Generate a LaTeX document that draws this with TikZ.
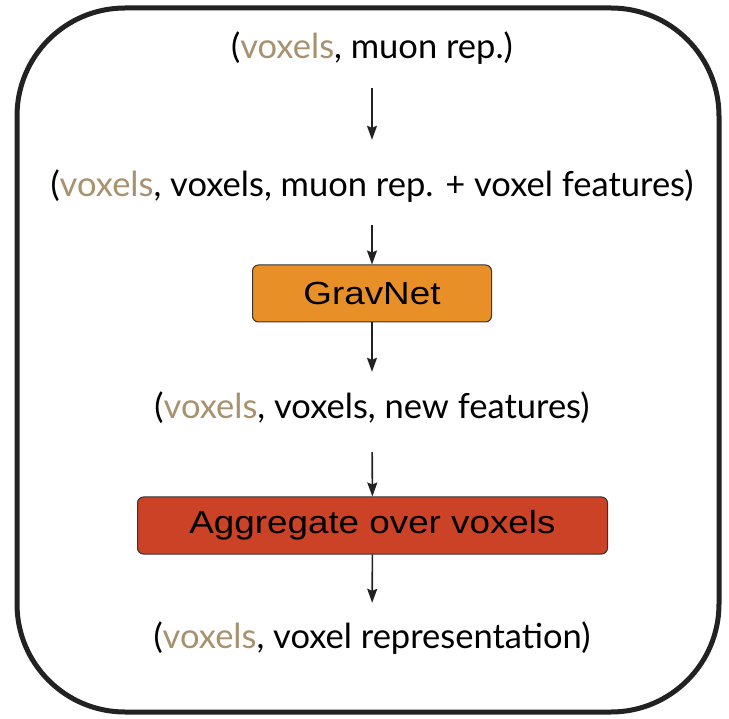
\documentclass[tikz,border=0pt]{standalone}
\usepackage{fontspec}
\setmainfont{Lato}
\newfontfamily\boxfont[FakeStretch=1.15]{Liberation Sans}
\usetikzlibrary{arrows.meta,positioning}
\definecolor{voxelTan}{HTML}{A8916F}
\definecolor{gravOrange}{HTML}{E98F27}
\definecolor{aggRed}{HTML}{CB4226}
\definecolor{frameGrey}{HTML}{222222}
\definecolor{edgeGrey}{HTML}{333333}
\newcommand{\vox}{\textcolor{voxelTan}{voxels}}

\begin{document}
\begin{tikzpicture}[x=1pt,y=-1pt,>={Stealth[length=14pt,width=10pt,inset=2pt]},
    tuple/.style={inner sep=0pt,text height=25pt,text depth=8pt,font=\fontsize{34.5}{40}\selectfont},
    layer/.style={draw=edgeGrey,line width=1pt,rounded corners=6pt,inner sep=0pt,
      minimum height=57pt,font=\boxfont\fontsize{32}{38}\selectfont},
    flow/.style={->,line width=1.6pt,frameGrey}]
  \useasboundingbox (0,0) rectangle (729,719);
  \draw[frameGrey,line width=5pt,rounded corners=108pt] (17,8) rectangle (719,712);

  \node[tuple] (inrep) at (372,50) {(\vox, muon rep.)};
  \node[tuple] (pairs) at (372,188) {(\vox, voxels, muon rep. + voxel features)};
  \node[layer,fill=gravOrange,minimum width=239pt] (gravnet) at (372,293.5) {GravNet};
  \node[tuple] (newfeat) at (372,410) {(\vox, voxels, new features)};
  \node[layer,fill=aggRed,minimum width=470pt] (aggr) at (372.5,525.5) {Aggregate over voxels};
  \node[tuple] (outrep) at (372,640) {(\vox, voxel representation)};

  \draw[flow,shorten <=21.5pt,shorten >=31.5pt] (inrep) -- (pairs);
  \draw[flow,shorten <=20.5pt] (pairs) -- (gravnet);
  \draw[flow,shorten >=21.5pt] (gravnet) -- (newfeat);
  \draw[flow,shorten <=25.5pt] (newfeat) -- (aggr);
  \draw[flow,shorten >=20.5pt] (aggr) -- (outrep);
\end{tikzpicture}
\end{document}
